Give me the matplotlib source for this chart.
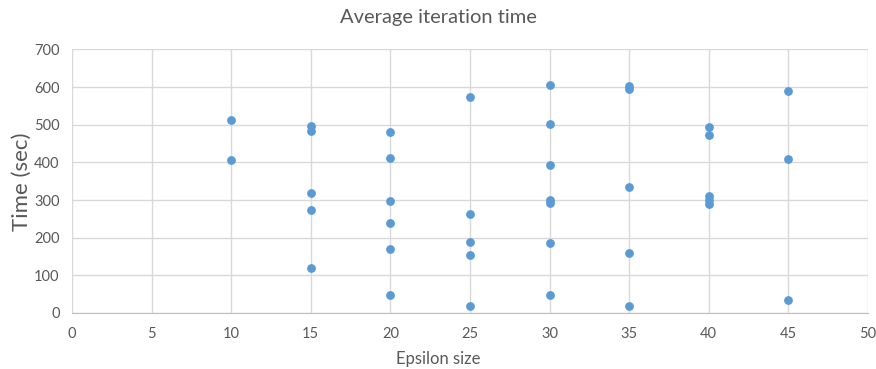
import matplotlib.pyplot as plt

# measured average iteration time per epsilon size
eps_10 = [513, 406]
eps_15 = [498, 484, 319, 274, 120]
eps_20 = [482, 412, 297, 240, 169, 48]
eps_25 = [573, 262, 189, 153, 18]
eps_30 = [605, 503, 394, 300, 291, 185, 48]
eps_35 = [602, 596, 336, 160, 19]
eps_40 = [493, 473, 311, 300, 290]
eps_45 = [589, 408, 35]

groups = {10: eps_10, 15: eps_15, 20: eps_20, 25: eps_25,
          30: eps_30, 35: eps_35, 40: eps_40, 45: eps_45}

xs = []
ys = []
for eps, times in groups.items():
    xs += [eps] * len(times)
    ys += times

plt.rcParams['font.family'] = ['Lato', 'DejaVu Sans']
grey = '#595959'

fig = plt.figure(figsize=(8.76, 3.69), dpi=100)
ax = fig.add_axes([72 / 876, 56 / 369, 796 / 876, 263.5 / 369])

ax.scatter(xs, ys, s=40, color='#5B9BD5', zorder=3, linewidths=0)

ax.set_xlim(0, 50)
ax.set_ylim(0, 700)
ax.set_xticks(range(0, 51, 5))
ax.set_yticks(range(0, 701, 100))
ax.grid(True, color='#D9D9D9', linewidth=1)
ax.set_axisbelow(True)
for side in ['top', 'right', 'left']:
    ax.spines[side].set_visible(False)
ax.spines['bottom'].set_color('#BFBFBF')
ax.tick_params(length=0, colors=grey, labelsize=10.5)
ax.tick_params(axis='x', pad=10)
ax.tick_params(axis='y', pad=9)

fig.text(0.5, 1 - 18 / 369, 'Average iteration time', ha='center', va='center',
         fontsize=14.5, color=grey)
fig.text(0.5, 1 - 359 / 369, 'Epsilon size', ha='center', va='center',
         fontsize=12, color=grey)
fig.text(22 / 876, 1 - 182 / 369, 'Time (sec)', ha='center', va='center',
         rotation=90, fontsize=16, color=grey)

fig.savefig('out.png', dpi=100)
